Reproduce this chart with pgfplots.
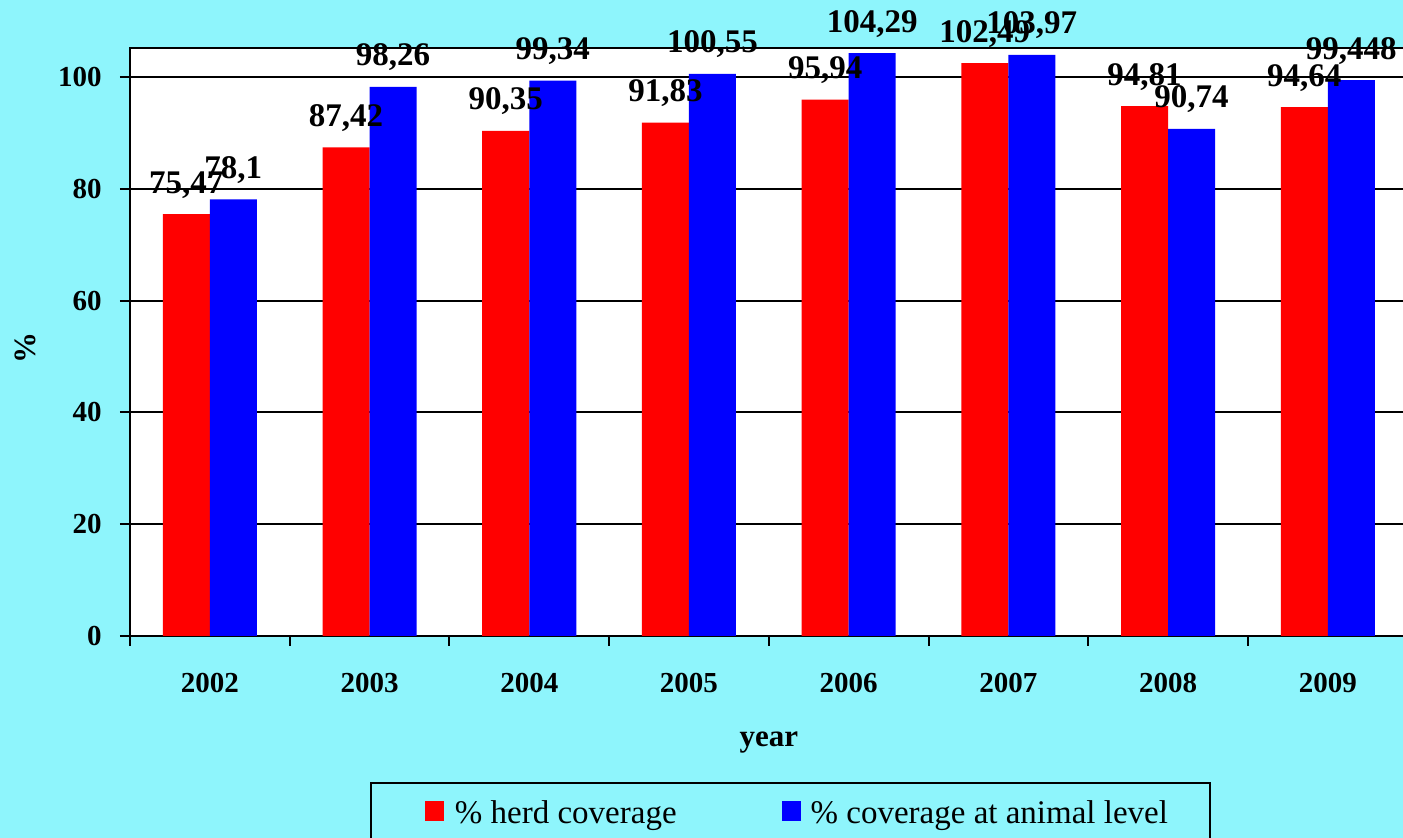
\documentclass[border=0pt]{standalone}
\usepackage{fontspec}
\setmainfont{Liberation Serif}
\usepackage{pgfplots}
\pgfplotsset{compat=1.18}
\definecolor{bg}{RGB}{142,245,252}
\begin{document}
\begin{tikzpicture}
\useasboundingbox (0,0) rectangle (701.5pt,419pt);
\fill[bg] (0,0) rectangle (701.5pt,419pt);
\clip (0,0) rectangle (701.5pt,419pt);
\begin{axis}[
  at={(65pt,101pt)}, anchor=south west,
  scale only axis, width=638.8pt, height=294pt,
  xmin=-0.5, xmax=7.5, ymin=0, ymax=105.2,
  axis background/.style={fill=white},
  axis line style={line width=1pt, black},
  ybar=0pt, bar width=23.5pt,
  clip=false,
  xtick={-0.5,0.5,...,7.5}, x tick label as interval,
  xticklabels={2002,2003,2004,2005,2006,2007,2008,2009},
  ytick={0,20,40,60,80,100},
  ymajorgrids, grid style={line width=1pt, black},
  tick align=outside, major tick length=5pt,
  tick style={line width=1pt, black},
  xtick pos=bottom, ytick pos=left,
  /pgf/number format/assume math mode=true,
  ticklabel style={font=\bfseries\fontsize{14.5}{16}\selectfont},
  xticklabel style={anchor=base, inner sep=0pt, yshift=-23.5pt},
  yticklabel style={anchor=east, inner sep=0pt, xshift=-9pt},
  xlabel={year},
  xlabel style={at={(axis description cs:0.5,0)}, anchor=base, inner sep=0pt, yshift=-55.5pt, font=\bfseries\fontsize{15.5}{17}\selectfont},
  ylabel={\%},
  ylabel style={at={(axis description cs:-0.07436,0.49)}, anchor=base, inner sep=0pt, font=\bfseries\fontsize{15.5}{17}\selectfont},
  nodes near coords={\pgfmathprintnumber[use comma,precision=3,assume math mode=true]{\pgfplotspointmeta}},
  every node near coord/.append style={font=\bfseries\fontsize{16.5}{18}\selectfont, anchor=base, yshift=10.5pt, inner sep=0pt, text=black},
  legend columns=2, legend cell align=left,
  legend style={at={(axis description cs:0.18785,-0.2483)}, anchor=north west,
    draw=black, line width=1pt, fill=bg, inner xsep=21pt, inner ysep=8.7pt,
    font=\fontsize{16.5}{19}\selectfont, nodes={inner sep=0pt},
    /tikz/column 1/.style={column sep=5.5pt},
    /tikz/column 2/.style={column sep=46.5pt},
    /tikz/column 3/.style={column sep=5pt}},
  legend image code/.code={\path (-6pt,0pt); \fill[#1] (0pt,-4pt) rectangle (9.5pt,6pt);},
]
\addplot[fill=red, draw=none] coordinates {(0,75.47) (1,87.42) (2,90.35) (3,91.83) (4,95.94) (5,102.49) (6,94.81) (7,94.64)};
\addlegendentry{\% herd coverage}
\addplot[fill=blue, draw=none] coordinates {(0,78.1) (1,98.26) (2,99.34) (3,100.55) (4,104.29) (5,103.97) (6,90.74) (7,99.448)};
\addlegendentry{\% coverage at animal level}
\end{axis}
\end{tikzpicture}
\end{document}
